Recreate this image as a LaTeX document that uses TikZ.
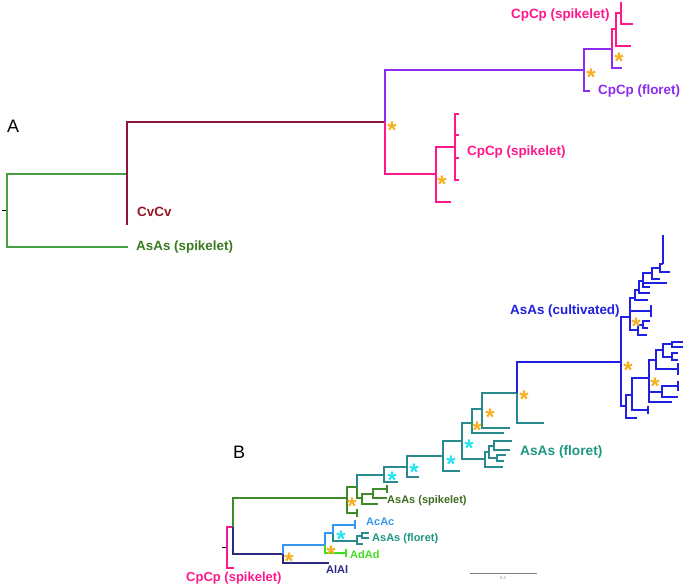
\documentclass[tikz,border=0pt]{standalone}
\usepackage{fontspec}
\setmainfont{Liberation Sans}
\definecolor{grA}{RGB}{72,160,68}
\definecolor{grAtxt}{RGB}{58,122,30}
\definecolor{maroon}{RGB}{140,22,62}
\definecolor{maroontxt}{RGB}{150,22,34}
\definecolor{pinkc}{RGB}{255,24,140}
\definecolor{purp}{RGB}{140,44,240}
\definecolor{bluec}{RGB}{32,32,228}
\definecolor{tealc}{RGB}{40,138,140}
\definecolor{tealtxt}{RGB}{30,150,130}
\definecolor{grB}{RGB}{62,138,40}
\definecolor{grBtxt}{RGB}{62,108,30}
\definecolor{navy}{RGB}{42,42,128}
\definecolor{ltblue}{RGB}{52,150,238}
\definecolor{ltgreen}{RGB}{64,222,30}
\definecolor{starO}{RGB}{246,176,30}
\definecolor{starC}{RGB}{40,226,242}
\begin{document}
\begin{tikzpicture}[x=1pt, y=-1pt,
  br/.style={line width=1.8pt},
  lab/.style={anchor=mid west, inner sep=0pt, font=\fontsize{13.4}{14}\selectfont\bfseries},
  slab/.style={anchor=mid west, inner sep=0pt, font=\fontsize{11}{12}\selectfont\bfseries},
  panel/.style={anchor=mid west, inner sep=0pt, font=\fontsize{18}{18}\selectfont},
  astk/.style={anchor=base, inner sep=0pt, yshift=-14pt, font=\fontsize{24}{24}\selectfont\bfseries}]
\useasboundingbox (0,0) rectangle (685,587);

% tree A
\coordinate (tA) at (2,210);   \coordinate (rA) at (7,210);
\coordinate (cv) at (127,174); \coordinate (asA) at (128,247);
\coordinate (cvl) at (127,225); \coordinate (cp) at (385,122);
\coordinate (fl) at (584,70);  \coordinate (sp1) at (436,174);
\coordinate (fll) at (590,91); \coordinate (fl2) at (612,49);
\coordinate (fl2l) at (622,68); \coordinate (sp2) at (616,29);
\coordinate (sp2l) at (631,46); \coordinate (sp3) at (621,13);
\coordinate (sp3a) at (621,2); \coordinate (sp3b) at (633,24);
\coordinate (sp1l) at (451,202); \coordinate (sp4) at (455,147);
\coordinate (sp4a) at (459,114); \coordinate (sp4b) at (459,135);
\coordinate (sp4c) at (459,158); \coordinate (sp4d) at (459,180);

\draw[line width=0.8pt] (tA) -- (rA);
\foreach \a/\b in {rA/cv, rA/asA} \draw[br, grA] (\a) |- (\b);
\foreach \a/\b in {cv/cvl, cv/cp} \draw[br, maroon] (\a) |- (\b);
\foreach \a/\b in {cp/fl, fl/fll, fl/fl2, fl2/fl2l} \draw[br, purp] (\a) |- (\b);
\foreach \a/\b in {cp/sp1, fl2/sp2, sp2/sp2l, sp2/sp3, sp3/sp3a, sp3/sp3b,
  sp1/sp1l, sp1/sp4, sp4/sp4a, sp4/sp4b, sp4/sp4c, sp4/sp4d}
  \draw[br, pinkc] (\a) |- (\b);

\node[panel] (labA) at (7,130) {A};
\node[lab, text=maroontxt] (labCv) at (137,214) {CvCv};
\node[lab, text=grAtxt] (labAsA) at (136,248) {AsAs (spikelet)};
\node[lab, text=pinkc] (labCpT) at (511,16) {CpCp (spikelet)};
\node[lab, text=purp] (labCpF) at (598,92) {CpCp (floret)};
\node[lab, text=pinkc] (labCpM) at (467,153) {CpCp (spikelet)};

% tree B
\coordinate (tB) at (222,547); \coordinate (rB) at (227,547);
\coordinate (n1) at (233,527); \coordinate (rBl) at (234,568);
\coordinate (g1) at (347,498); \coordinate (al) at (283,554);
\coordinate (g2) at (357,487); \coordinate (g1l) at (357,513);
\coordinate (g1u) at (357,509); \coordinate (g1d) at (357,517);
\coordinate (s1) at (362,498); \coordinate (s1l) at (378,504);
\coordinate (s2) at (373,494); \coordinate (s2l) at (387,498);
\coordinate (s3) at (387,489); \coordinate (s3u) at (387,485);
\coordinate (s3d) at (387,493);
\coordinate (t1) at (384,475); \coordinate (t1l) at (398,482);
\coordinate (t2) at (407,467); \coordinate (t2l) at (419,477);
\coordinate (t3) at (443,456); \coordinate (t3l) at (460,471);
\coordinate (t4) at (462,441); \coordinate (f1) at (485,459);
\coordinate (f1l) at (503,467); \coordinate (f2) at (489,452);
\coordinate (f3) at (494,446); \coordinate (f4) at (497,458);
\coordinate (f3a) at (512,441); \coordinate (f3b) at (510,450);
\coordinate (f4a) at (506,455); \coordinate (f4b) at (504,461);
\coordinate (t5) at (472,423); \coordinate (t5l) at (504,433);
\coordinate (t6) at (482,409); \coordinate (t6l) at (510,428);
\coordinate (t7) at (517,393); \coordinate (t7l) at (544,423);
\coordinate (b0) at (621,362);
\coordinate (bu) at (630,317); \coordinate (bl) at (626,406);
\coordinate (bu1) at (635,298); \coordinate (bu1l) at (648,300);
\coordinate (bk) at (651,311); \coordinate (bku) at (651,305);
\coordinate (bkd) at (651,317);
\coordinate (bu2) at (638,330); \coordinate (bu2l) at (647,335);
\coordinate (bu3) at (639,290); \coordinate (bu3l) at (650,293);
\coordinate (bu4) at (643,281); \coordinate (bu4a) at (667,283);
\coordinate (bu4b) at (650,287);
\coordinate (bu5) at (652,273); \coordinate (bu5l) at (660,279);
\coordinate (bu6) at (660,268); \coordinate (bu6l) at (670,272);
\coordinate (bu7) at (663,264); \coordinate (bu7a) at (663,235);
\coordinate (bu8) at (643,325); \coordinate (bu8a) at (650,321);
\coordinate (bu8b) at (648,328);
\coordinate (bl2) at (632,395); \coordinate (bll) at (637,418);
\coordinate (bl3) at (649,378); \coordinate (bl2t) at (648,410);
\coordinate (bl2u) at (648,406); \coordinate (bl2d) at (648,414);
\coordinate (bl4) at (656,360); \coordinate (bl5) at (662,392);
\coordinate (bl3l) at (672,402);
\coordinate (bl6) at (663,350); \coordinate (bl7) at (678,369);
\coordinate (bl7u) at (678,363); \coordinate (bl7d) at (678,375);
\coordinate (bl8) at (672,344); \coordinate (bl9) at (672,357);
\coordinate (bl8a) at (683,342); \coordinate (bl8b) at (683,347);
\coordinate (bl9a) at (678,353); \coordinate (bl9b) at (678,360);
\coordinate (bl5t) at (678,386); \coordinate (bl5u) at (678,381);
\coordinate (bl5d) at (678,391); \coordinate (bl5l) at (678,397);
\coordinate (all) at (329,563); \coordinate (lb) at (325,545);
\coordinate (cy) at (333,533); \coordinate (ac) at (355,525);
\coordinate (acu) at (355,520); \coordinate (acd) at (355,529);
\coordinate (ad) at (346,553); \coordinate (adu) at (346,549);
\coordinate (add) at (346,557);
\coordinate (fb) at (357,541); \coordinate (fbl) at (363,544);
\coordinate (fb2) at (362,536); \coordinate (fb2a) at (369,533);
\coordinate (fb2b) at (369,538);

\draw[line width=0.8pt] (tB) -- (rB);
\foreach \a/\b in {rB/n1, rB/rBl} \draw[br, pinkc] (\a) |- (\b);
\foreach \a/\b in {n1/g1, g1/g2, g1/g1l, g1l/g1u, g1l/g1d, g2/s1, s1/s1l,
  s1/s2, s2/s2l, s2/s3, s3/s3u, s3/s3d}
  \draw[br, grB] (\a) |- (\b);
\foreach \a/\b in {g2/t1, t1/t1l, t1/t2, t2/t2l, t2/t3, t3/t3l, t3/t4,
  t4/f1, f1/f1l, f1/f2, f2/f3, f2/f4, f3/f3a, f3/f3b, f4/f4a, f4/f4b,
  t4/t5, t5/t5l, t5/t6, t6/t6l, t6/t7, t7/t7l, cy/fb, fb/fbl, fb/fb2,
  fb2/fb2a, fb2/fb2b}
  \draw[br, tealc] (\a) |- (\b);
\foreach \a/\b in {t7/b0, b0/bu, b0/bl, bu/bu1, bu/bk, bk/bku, bk/bkd,
  bu/bu2, bu1/bu1l, bu1/bu3, bu3/bu3l, bu3/bu4, bu4/bu4a, bu4/bu4b,
  bu4/bu5, bu5/bu5l, bu5/bu6, bu6/bu6l, bu6/bu7, bu7/bu7a, bu2/bu2l,
  bu2/bu8, bu8/bu8a, bu8/bu8b, bl/bll, bl/bl2, bl2/bl2t, bl2t/bl2u,
  bl2t/bl2d, bl2/bl3, bl3/bl3l, bl3/bl4, bl3/bl5, bl4/bl7, bl7/bl7u,
  bl7/bl7d, bl4/bl6, bl6/bl8, bl6/bl9, bl8/bl8a, bl8/bl8b, bl9/bl9a,
  bl9/bl9b, bl5/bl5l, bl5/bl5t, bl5t/bl5u, bl5t/bl5d}
  \draw[br, bluec] (\a) |- (\b);
\foreach \a/\b in {n1/al, al/all} \draw[br, navy] (\a) |- (\b);
\foreach \a/\b in {al/lb, lb/cy, cy/ac, ac/acu, ac/acd} \draw[br, ltblue] (\a) |- (\b);
\foreach \a/\b in {lb/ad, ad/adu, ad/add} \draw[br, ltgreen] (\a) |- (\b);

\node[panel] (labB) at (233,456) {B};
\node[lab, text=bluec] (labCult) at (510,312) {AsAs (cultivated)};
\node[lab, text=tealtxt, font=\fontsize{13.7}{14}\selectfont\bfseries] (labFlB) at (520,453) {AsAs (floret)};
\node[slab, text=grBtxt] (labSpB) at (387,501) {AsAs (spikelet)};
\node[slab, text=ltblue] (labAc) at (366,523) {AcAc};
\node[slab, text=tealtxt] (labFlS) at (372,539) {AsAs (floret)};
\node[slab, text=ltgreen] (labAd) at (350,556) {AdAd};
\node[slab, text=navy] (labAl) at (326,571) {AlAl};
\node[lab, text=pinkc, font=\fontsize{13}{14}\selectfont\bfseries] (labCpB) at (186,579) {CpCp (spikelet)};

% scale bar
\coordinate (sbL) at (470,573); \coordinate (sbR) at (537,573);
\draw[gray, line width=0.8pt] (sbL) -- (sbR);
\node[inner sep=0pt, font=\fontsize{4}{4}\selectfont, text=gray] (sbT) at (503,578) {0.2};

% support stars
\foreach \p [count=\i] in {(392,124),(591,71),(619,55),(442,178),(524,393),
  (490,411),(477,424),(628,364),(636,320),(655,380),(352,500),(289,555),(331,548)}
  \node[astk, text=starO] (so\i) at \p {*};
\foreach \p [count=\i] in {(392,474),(414,466),(451,458),(469,442),(341,533)}
  \node[astk, text=starC] (sc\i) at \p {*};
\end{tikzpicture}
\end{document}
